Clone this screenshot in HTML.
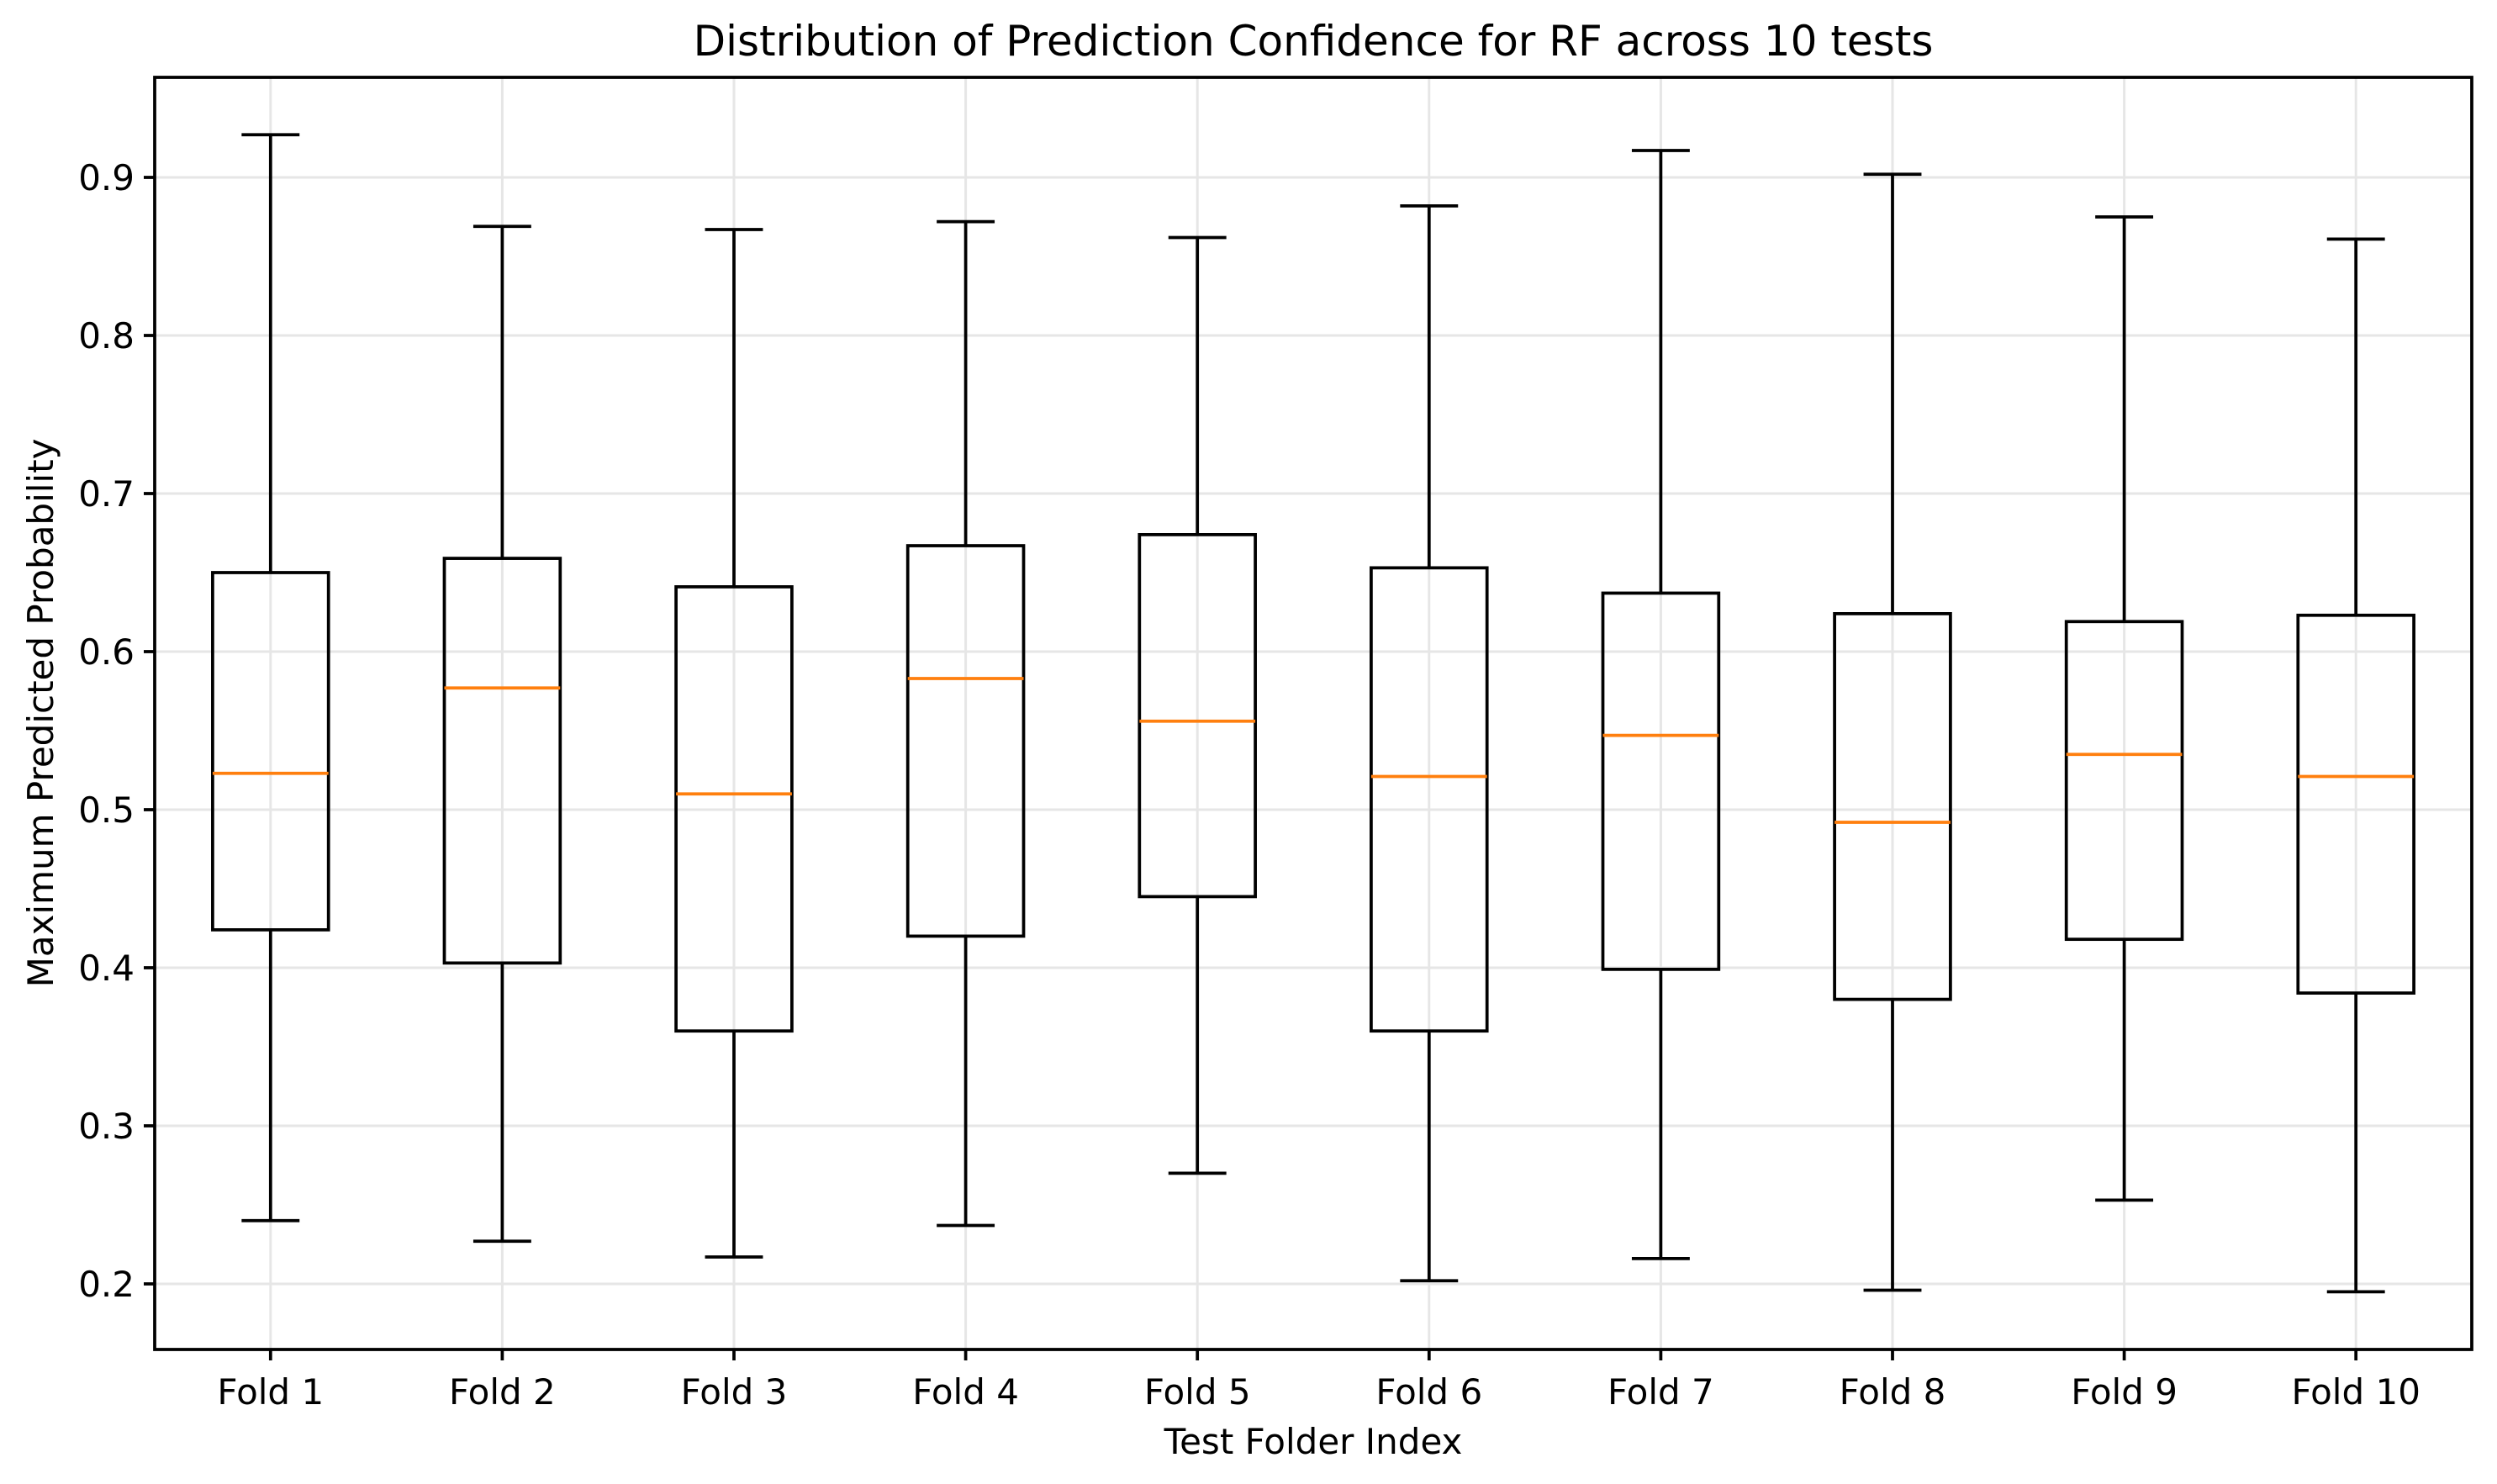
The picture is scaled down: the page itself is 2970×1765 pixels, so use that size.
<!DOCTYPE html>
<html><head><meta charset="utf-8"><style>
html,body{margin:0;padding:0;background:#fff}
svg{display:block;font-family:"DejaVu Sans","Liberation Sans",sans-serif}
</style></head><body>
<svg id="chart" width="2970" height="1765" viewBox="0 0 2970 1765" xmlns="http://www.w3.org/2000/svg">
<rect width="2970" height="1765" fill="#fff"/>
<text x="1562" y="66" font-size="50" text-anchor="middle">Distribution of Prediction Confidence for RF across 10 tests</text>
<g id="grid"></g>
<g id="boxes"></g>
<rect x="184" y="92" width="2756" height="1513" fill="none" stroke="#000" stroke-width="3.75"/>
<g id="axes"></g>
<text x="1562" y="1729" font-size="42" text-anchor="middle">Test Folder Index</text>
<text transform="translate(63,848) rotate(-90)" font-size="42" text-anchor="middle">Maximum Predicted Probability</text>
</svg>
<script>
const categories = ["Fold 1","Fold 2","Fold 3","Fold 4","Fold 5","Fold 6","Fold 7","Fold 8","Fold 9","Fold 10"];
const whiskerLow = [0.240,0.227,0.217,0.237,0.270,0.202,0.216,0.196,0.253,0.195];
const q1 = [0.424,0.403,0.360,0.420,0.445,0.360,0.399,0.380,0.418,0.384];
const medians = [0.523,0.577,0.510,0.583,0.556,0.521,0.547,0.492,0.535,0.521];
const q3 = [0.650,0.659,0.641,0.667,0.674,0.653,0.637,0.624,0.619,0.623];
const whiskerHigh = [0.927,0.869,0.867,0.872,0.862,0.882,0.917,0.902,0.875,0.861];
const yTicks = [0.2,0.3,0.4,0.5,0.6,0.7,0.8,0.9];
const yTickLabels = ["0.2","0.3","0.4","0.5","0.6","0.7","0.8","0.9"];

const L=184,R=2940,T=92,B=1605;
const y0v=0.2,y0p=1527,pxPer=1880;
function yPos(v){return y0p-(v-y0v)*pxPer;}
function xPos(i){return L+(i+0.5)*(R-L)/categories.length;}
const unit=(R-L)/categories.length;
const NS="http://www.w3.org/2000/svg";
function mk(tag,attrs,parent){const e=document.createElementNS(NS,tag);for(const k in attrs)e.setAttribute(k,attrs[k]);parent.appendChild(e);return e;}
const grid=document.getElementById('grid'),boxes=document.getElementById('boxes'),axes=document.getElementById('axes');
const gc="#e6e6e6";
yTicks.forEach((v,i)=>{
  const y=yPos(v);
  const g=mk('line',{x1:L,x2:R,y1:y,y2:y,stroke:gc,'stroke-width':3},grid);
  
  
  const t=mk('line',{x1:L-13,x2:L,y1:y,y2:y,stroke:'#000','stroke-width':3.75},axes);
  
  
  const tx=mk('text',{x:L-24,y:y+15,'font-size':42,'text-anchor':'end'},axes);
  tx.textContent=yTickLabels[i];
  
  
});
categories.forEach((c,i)=>{
  const x=xPos(i);
  const g=mk('line',{x1:x,x2:x,y1:T,y2:B,stroke:gc,'stroke-width':3},grid);
  
  
  const t=mk('line',{x1:x,x2:x,y1:B,y2:B+13,stroke:'#000','stroke-width':3.75},axes);
  
  
  const tx=mk('text',{x:x,y:B+65,'font-size':42,'text-anchor':'middle'},axes);
  tx.textContent=c;
  
  
  const grp=mk('g',{},boxes);
  
  
  const bw=unit*0.5/2, cw=unit*0.25/2;
  const s={stroke:'#000','stroke-width':3.75,fill:'none'};
  mk('line',Object.assign({x1:x,x2:x,y1:yPos(q1[i]),y2:yPos(whiskerLow[i])},s),grp);
  mk('line',Object.assign({x1:x,x2:x,y1:yPos(q3[i]),y2:yPos(whiskerHigh[i])},s),grp);
  mk('line',Object.assign({x1:x-cw,x2:x+cw,y1:yPos(whiskerLow[i]),y2:yPos(whiskerLow[i])},s),grp);
  mk('line',Object.assign({x1:x-cw,x2:x+cw,y1:yPos(whiskerHigh[i]),y2:yPos(whiskerHigh[i])},s),grp);
  mk('rect',Object.assign({x:x-bw,y:yPos(q3[i]),width:2*bw,height:yPos(q1[i])-yPos(q3[i])},s),grp);
  mk('line',{x1:x-bw,x2:x+bw,y1:yPos(medians[i]),y2:yPos(medians[i]),stroke:'#ff7f0e','stroke-width':3.75},grp);
});
</script>
</body></html>
